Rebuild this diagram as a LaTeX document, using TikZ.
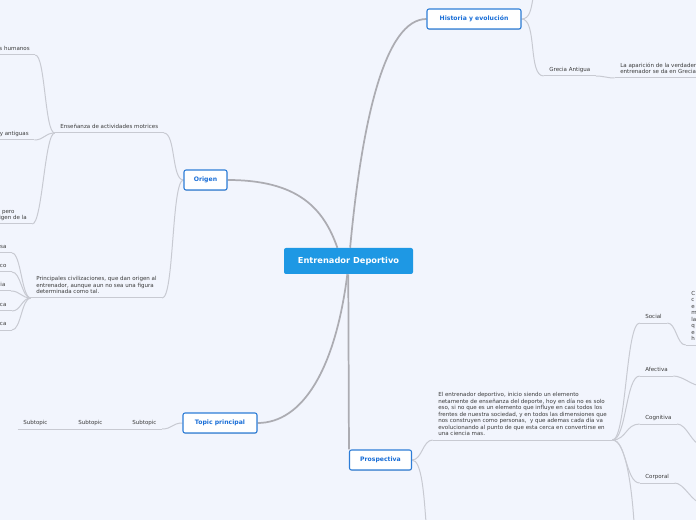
\documentclass[tikz,border=0pt]{standalone}
\usepackage{fontspec}
\setmainfont{DejaVu Sans}
\usepackage{xcolor}
\usepackage{tikz}
\usetikzlibrary{shadows}

\definecolor{fondo}{RGB}{242,245,253}
\definecolor{entazul}{RGB}{30,152,228}
\definecolor{bordeazul}{RGB}{45,125,215}
\definecolor{textazul}{RGB}{25,110,215}
\definecolor{gristexto}{RGB}{60,60,60}
\definecolor{grislinea}{RGB}{200,202,210}
\definecolor{grisrama}{RGB}{172,172,178}

\pgfdeclarelayer{bg}
\pgfdeclarelayer{lines}
\pgfsetlayers{bg,lines,main}

\begin{document}
\begin{tikzpicture}[x=0.75pt, y=-0.75pt,
    centro/.style={fill=entazul, text=white, rounded corners=1.5pt, inner sep=0pt,
        minimum width=96.75pt, minimum height=19.5pt,
        font=\fontsize{6.2}{7}\selectfont\bfseries},
    tema/.style={draw=bordeazul, fill=white, text=textazul, line width=0.8pt,
        rounded corners=1.5pt, inner sep=0pt, minimum height=15pt,
        drop shadow={shadow xshift=0.3pt, shadow yshift=-0.6pt, opacity=0.25},
        font=\fontsize{4.6}{5.5}\selectfont\bfseries},
    sub/.style={text=gristexto, inner xsep=4pt, inner ysep=1.5pt, text depth=1.5pt,
        align=left, font=\fontsize{4.15}{4.9}\selectfont},
    rama/.style={draw=grisrama, line width=1.3pt},
    linea/.style={draw=grislinea, line width=0.75pt}]
    \useasboundingbox (0,0) rectangle (696,520);
    \begin{pgfonlayer}{bg}
        \fill[fondo] (0,0) rectangle (696,520);
    \end{pgfonlayer}

    \node[centro] (ent) at (348.5,261) {Entrenador Deportivo};
    \node[tema, minimum width=32.25pt] (org) at (205.5,180) {Origen};
    \node[tema, minimum width=70.5pt] (hist) at (474,19) {Historia y evolución};
    \node[tema, minimum width=55.5pt] (top) at (220,423) {Topic principal};
    \node[tema, minimum width=46.5pt] (prosp) at (380.5,460) {Prospectiva};

    \node[sub, anchor=south west] (ens) at (54.7,133) {Enseñanza de actividades motrices};
    \node[sub, anchor=south east] (hum) at (35.3,55) {s humanos};
    \node[sub, anchor=south east] (ant) at (34.3,140) {y antiguas};
    \node[sub, anchor=south east] (pero) at (32.3,224) {\hspace*{2pt}pero\\igen de la};
    \node[sub, anchor=south west] (prin) at (30.7,298)
        {Principales civilizaciones, que dan origen al\\entrenador, aunque aun no sea una figura\\determinada como tal.};
    \node[sub, anchor=south east] (civ1) at (12,253) {sa};
    \node[sub, anchor=south east] (civ2) at (12,272) {co};
    \node[sub, anchor=south east] (civ3) at (11,291) {ia};
    \node[sub, anchor=south east] (civ4) at (12,311) {ca};
    \node[sub, anchor=south east] (civ5) at (12,330) {ca};

    \node[sub, anchor=south west] (sub1) at (17.7,429) {Subtopic};
    \node[sub, anchor=south west] (sub2) at (72.7,429) {Subtopic};
    \node[sub, anchor=south west] (sub3) at (126.7,429) {Subtopic};

    \node[sub, anchor=south west] (grecia) at (543.7,76) {Grecia Antigua};
    \node[sub, anchor=south west] (apar) at (614.7,78) {La aparición de la verdadera\\entrenador se da en Grecia};
    \coordinate (hup) at (533,-2);

    \node[sub, anchor=south west] (par) at (432.7,440)
        {El entrenador deportivo, inicio siendo un elemento\\netamente de enseñanza del deporte, hoy en día no es solo\\eso, si no que es un elemento que influye en casi todos los\\frentes de nuestra sociedad, y en todos las dimensiones que\\nos construyen como personas,\ \ y que ademas cada día va\\evolucionando al punto de que esta cerca en convertirse en\\una ciencia mas.};
    \node[sub, anchor=south west] (soc) at (639.7,323) {Social};
    \node[sub, anchor=south west] (soctxt) at (685.7,345) {C\\c\\e\\m\\la\\q\\e\\h};
    \node[sub, anchor=south west] (afe) at (639.7,376) {Afectiva};
    \node[sub, anchor=south west] (cog) at (639.7,424) {Cognitiva};
    \node[sub, anchor=south west] (cor) at (639.7,483) {Corporal};
    \coordinate (afeR) at (702,386);
    \coordinate (cogR) at (702,445);
    \coordinate (corR) at (702,503);
    \coordinate (pbot) at (634,522);
    \coordinate (pdown) at (426,522);

    \begin{pgfonlayer}{lines}
        \draw[rama] (org.east) .. controls +(70,0) and +(-14,-40) .. (ent.130);
        \draw[rama] (ent.83) .. controls (362,120) and (385,19) .. (hist.west);
        \draw[rama] (ent.265) .. controls +(-12,95) and +(45,0) .. (top.east);
        \draw[rama] (ent.269) -- (prosp.north west);

        \foreach \n in {ens,hum,ant,pero,prin,civ1,civ2,civ3,civ4,civ5,sub1,sub2,sub3,
                grecia,apar,par,soc,soctxt,afe,cog,cor}
            \draw[linea] (\n.south west) -- (\n.south east);
        \draw[linea] ([xshift=-1pt]apar.south east) -- ++(30,0);
        \draw[linea] ([xshift=-1pt]soctxt.south east) -- ++(30,0);

        \draw[linea] (org.west) .. controls +(-12,0) and +(12,0) .. (ens.south east);
        \draw[linea] (org.west) .. controls +(-12,0) and +(12,0) .. (prin.south east);
        \foreach \n in {hum,ant,pero}
            \draw[linea] (\n.south east) .. controls +(10,0) and +(-10,0) .. (ens.south west);
        \foreach \n in {civ1,civ2,civ3,civ4,civ5}
            \draw[linea] (\n.south east) .. controls +(9,0) and +(-9,0) .. (prin.south west);

        \draw[linea] (top.west) .. controls +(-10,0) and +(10,0) .. (sub3.south east);
        \draw[linea] (sub3.south west) -- (sub2.south east);
        \draw[linea] (sub2.south west) -- (sub1.south east);

        \draw[linea] (hist.east) .. controls +(8,0) and +(-2,12) .. (hup);
        \draw[linea] (hist.east) .. controls +(16,0) and +(-16,0) .. (grecia.south west);
        \draw[linea] (grecia.south east) .. controls +(8,0) and +(-8,0) .. (apar.south west);

        \draw[linea] (prosp.east) .. controls +(10,0) and +(-10,0) .. (par.south west);
        \draw[linea] (prosp.east) .. controls +(10,0) and +(-2,-25) .. (pdown);
        \foreach \n in {soc,afe,cog,cor}
            \draw[linea] (par.south east) .. controls +(14,0) and +(-14,0) .. (\n.south west);
        \draw[linea] (par.south east) .. controls +(14,0) and +(-2,-30) .. (pbot);
        \draw[linea] (soc.south east) .. controls +(9,0) and +(-9,0) .. (soctxt.south west);
        \draw[linea] (afe.south east) .. controls +(10,0) and +(-10,0) .. (afeR);
        \draw[linea] (cog.south east) .. controls +(10,0) and +(-10,0) .. (cogR);
        \draw[linea] (cor.south east) .. controls +(10,0) and +(-10,0) .. (corR);
    \end{pgfonlayer}
\end{tikzpicture}
\end{document}
